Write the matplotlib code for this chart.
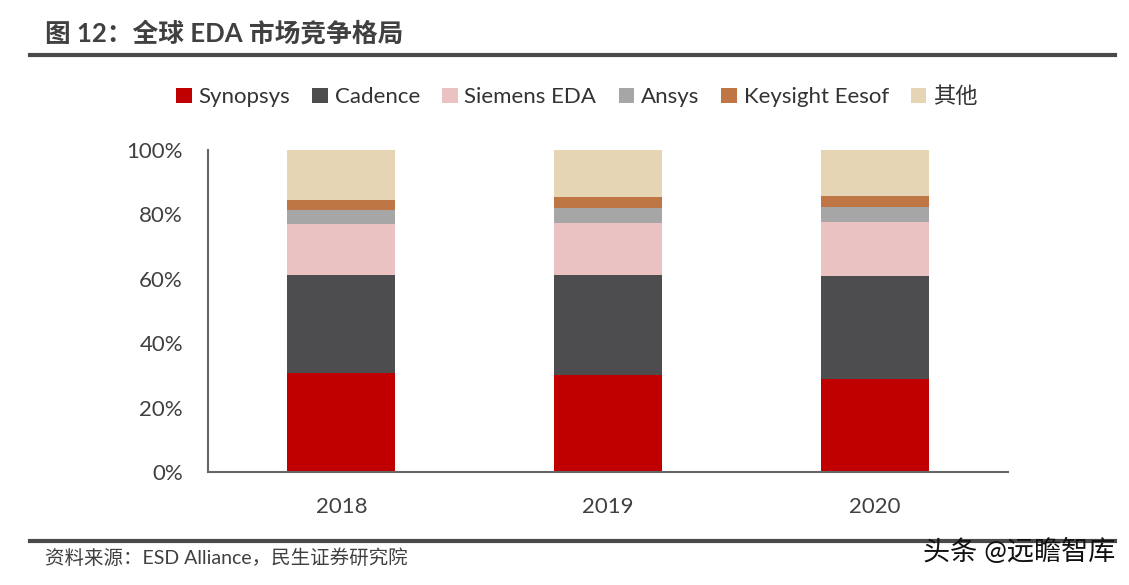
import numpy as np
from matplotlib import pyplot as plt
from matplotlib.lines import Line2D
from matplotlib.ticker import FuncFormatter

plt.rcParams['font.family'] = ['Lato', 'Noto Sans CJK SC', 'DejaVu Sans']

years = ['2018', '2019', '2020']
names = ['Synopsys', 'Cadence', 'Siemens EDA', 'Ansys', 'Keysight Eesof', '其他']
colors = ['#C00000', '#4D4D4F', '#EBC2C2', '#A6A6A6', '#BE7744', '#E6D5B4']

synopsys = [30.7, 30.1, 28.9]
cadence = [30.5, 31.2, 32.1]
siemens = [15.8, 16.0, 16.6]
ansys = [4.4, 4.7, 4.7]
keysight = [3.1, 3.4, 3.4]
others = [15.5, 14.6, 14.3]
shares = [synopsys, cadence, siemens, ansys, keysight, others]

fig = plt.figure(figsize=(11.29, 5.85), dpi=100)
ax = fig.add_axes([208 / 1129, 1 - 472 / 585, 800 / 1129, 322 / 585])

x = np.arange(len(years))
bottom = np.zeros(len(years))
for vals, name, c in zip(shares, names, colors):
    ax.bar(x, vals, 0.405, bottom=bottom, color=c, label=name)
    bottom += np.array(vals)

ax.set_xlim(-0.5, 2.5)
ax.set_ylim(0, 100)
ax.set_yticks(range(0, 101, 20))
ax.yaxis.set_major_formatter(FuncFormatter(lambda v, p: '%d%%' % v))
ax.set_xticks(x)
ax.set_xticklabels(years)
ax.tick_params(length=0, labelsize=16, colors='#404040')
ax.tick_params(axis='y', pad=18)
ax.tick_params(axis='x', pad=18)
for s in ['top', 'right']:
    ax.spines[s].set_visible(False)
for s in ['left', 'bottom']:
    ax.spines[s].set_color('#666666')
    ax.spines[s].set_linewidth(1.5)

fig.legend(loc='center', bbox_to_anchor=(0.511, 1 - 97 / 585), ncol=6, frameon=False,
           fontsize=16, handlelength=0.7, handleheight=0.7, handletextpad=0.3,
           columnspacing=1.0, labelcolor='#333333')

fig.text(45 / 1129, 1 - 33 / 585, '图 12：全球 EDA 市场竞争格局', fontsize=18.5, fontweight='bold',
         color='#404040', va='center', ha='left')
fig.add_artist(Line2D([30 / 1129, 1115 / 1129], [1 - 55 / 585] * 2, color='#4A4A4A', lw=3))
fig.add_artist(Line2D([30 / 1129, 1115 / 1129], [1 - 541 / 585] * 2, color='#4A4A4A', lw=3))
fig.text(45 / 1129, 1 - 558 / 585, '资料来源：ESD Alliance，民生证券研究院', fontsize=14,
         color='#404040', va='center', ha='left')
fig.text(1115 / 1129, 1 - 552 / 585, '头条 @远瞻智库', fontsize=19.5, color='#111111',
         va='center', ha='right')

fig.savefig('out.png', dpi=100)
